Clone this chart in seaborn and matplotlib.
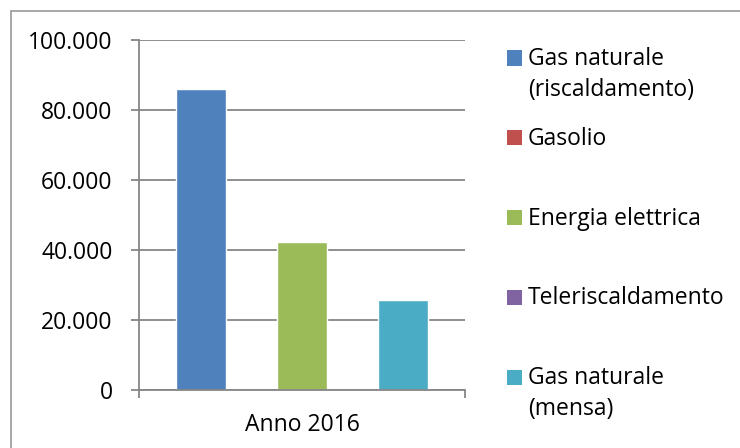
import pandas as pd
import matplotlib.pyplot as plt
import seaborn as sns
from matplotlib.patches import Rectangle
from matplotlib.ticker import FuncFormatter, FixedLocator

# Data
categories = ["Anno 2016"]
series = ["Gas naturale\n(riscaldamento)", "Gasolio", "Energia elettrica",
          "Teleriscaldamento", "Gas naturale\n(mensa)"]
values = [86000, 0, 42200, 0, 25600]
colors = ["#4F81BD", "#C0504D", "#9BBB59", "#8064A2", "#4BACC6"]
y_ticks = [0, 20000, 40000, 60000, 80000, 100000]


def main():
    df = pd.DataFrame({
        "anno": categories * len(series),
        "fonte": series,
        "valore": values,
    })

    sns.set_theme(style="white")
    plt.rcParams["font.family"] = ["Open Sans", "DejaVu Sans"]
    grey = "#868686"
    fs = 16.5

    fig = plt.figure(figsize=(7.4, 4.48), dpi=100)
    ax = fig.add_axes([139 / 740, 1 - 389.5 / 448, 326 / 740, 349.5 / 448])

    sns.barplot(data=df, x="anno", y="valore", hue="fonte", hue_order=series,
                palette=colors, width=0.773, saturation=1, legend=False, ax=ax)

    ax.set_ylim(0, 100000)
    ax.set_xlim(-0.5, 0.5)
    ax.set_yticks(y_ticks)
    ax.yaxis.set_major_formatter(FuncFormatter(lambda v, p: f"{int(v):,}".replace(",", ".")))
    ax.yaxis.grid(True, color=grey, linewidth=1.3)
    ax.set_axisbelow(True)
    ax.set_xlabel("")
    ax.set_ylabel("")

    for side in ["top", "right"]:
        ax.spines[side].set_visible(False)
    for side in ["left", "bottom"]:
        ax.spines[side].set_color(grey)
        ax.spines[side].set_linewidth(1.3)

    ax.tick_params(axis="y", which="major", left=True, length=6, width=1.3, color=grey,
                   labelsize=fs, labelcolor="black", pad=13)
    ax.tick_params(axis="x", which="major", length=0, labelsize=fs, labelcolor="black", pad=17)
    ax.xaxis.set_minor_locator(FixedLocator([-0.5, 0.5]))
    ax.tick_params(axis="x", which="minor", bottom=True, length=6, width=1.3, color=grey)

    # Excel style legend: square aligned to first text line
    for i, (name, col) in enumerate(zip(series, colors)):
        y_px = 58 + 79.8 * i
        fig.add_artist(Rectangle((507 / 740, 1 - (y_px + 7.5) / 448), 15 / 740, 15 / 448,
                                 transform=fig.transFigure, color=col, lw=0))
        for j, line in enumerate(name.split("\n")):
            fig.text(528 / 740, 1 - (y_px + 1 + 31 * j) / 448, line, fontsize=fs,
                     va="center", ha="left", color="black")

    # chart area border
    fig.add_artist(Rectangle((10.5 / 740, -0.1), 1.2, 1.1 - 11 / 448,
                             transform=fig.transFigure, fill=False,
                             edgecolor="#A0A0A0", linewidth=1.3))

    fig.savefig("out.png", dpi=100)


if __name__ == "__main__":
    main()
